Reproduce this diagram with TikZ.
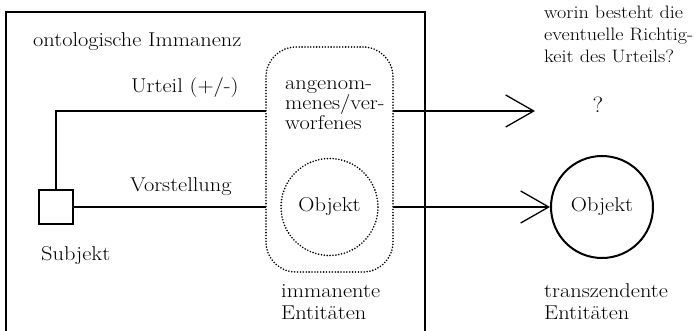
\documentclass[tikz,border=0pt]{standalone}
\usepackage{fontspec}
\setmainfont{Latin Modern Roman}[FakeStretch=1.12]
\usetikzlibrary{arrows.meta}
\begin{document}
\begin{tikzpicture}[x=1pt,y=-1pt,
  lbl/.style={inner sep=0pt, font=\fontsize{20}{22}\selectfont},
  word/.style={lbl, anchor=base west},
  blk/.style={lbl, align=left, anchor=base west},
  conn/.style={line width=1.3pt},
  barb/.style={-{Straight Barb[length=28pt,width=32pt,line width=1.3pt]}},
  dotline/.style={line width=1.8pt, line cap=round, dash pattern=on 0pt off 2.9pt}]
\useasboundingbox (0,0) rectangle (698,331);

% frame of the immanent domain, open at the bottom
\draw[line width=2.3pt] (6,335) -- (6,12) -- (425,12) -- (425,335);
\node[word] (onto) at (33,47) {ontologische Immanenz};

% subject and the two relations
\node[draw, line width=2pt, minimum size=34pt, inner sep=0pt] (subj) at (56,207) {};
\node[word] (subjlbl) at (41,260) {Subjekt};
\coordinate (q) at (535,111);
\node[draw, circle, line width=2pt, minimum size=102pt, inner sep=0pt, lbl] (tobj) at (602,207) {Objekt};

\draw[conn, barb] (subj.north) |- (q);
\draw[conn, barb] (subj.east) -- (tobj.west);

\node[word] (urteil) at (131,93) {Urteil (+/-)};
\node[word] (vorst) at (130,192) {Vorstellung};

% immanent entities, drawn over the relation lines
\node[draw, dotline, fill=white, rounded corners=30pt, minimum width=127pt, minimum height=225pt, inner sep=0pt] (imm) at (329.5,159.5) {};
% multi-line labels: the base anchor sits on the last line
\node[blk, font=\fontsize{20}{20}\selectfont] (angen) at (285,130) {angenom-\\menes/ver-\\worfenes};
\node[draw, dotline, circle, minimum size=97pt, inner sep=0pt, lbl] (iobj) at (329.5,207) {Objekt};
\node[blk] (immlbl) at (281,319) {immanente\\Entit\"aten};

% transcendent side
\node[lbl, anchor=base, font=\fontsize{22}{22}\selectfont] (qm) at (598,113) {?};
\node[blk, font=\fontsize{18}{22}\selectfont] (frage) at (544,63) {worin besteht die\\eventuelle Richtig-\\keit des Urteils?};
\node[blk] (translbl) at (544,319) {transzendente\\Entit\"aten};
\end{tikzpicture}
\end{document}
